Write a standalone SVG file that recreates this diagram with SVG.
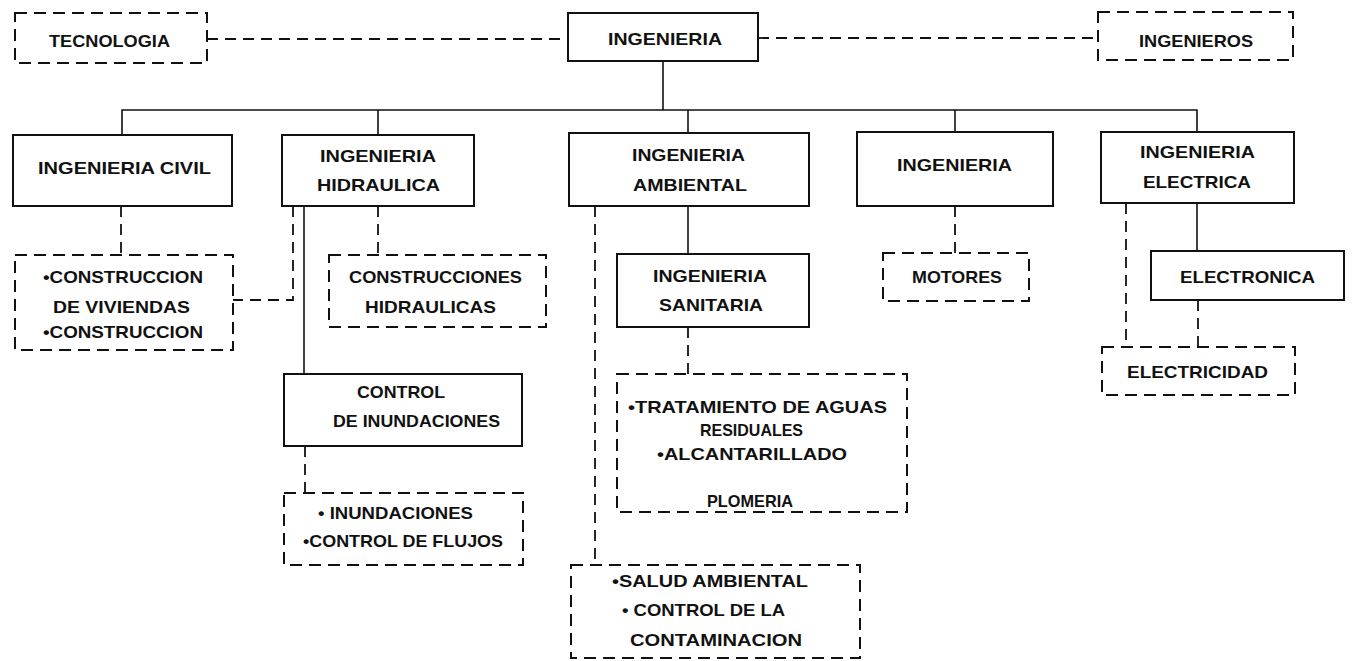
<svg xmlns="http://www.w3.org/2000/svg" width="1353" height="661" viewBox="0 0 1353 661">
<style>
.bg{fill:#fff}
.box{fill:#fff;stroke:#111;stroke-width:2}
.dbox{fill:#fff;stroke:#111;stroke-width:2;stroke-dasharray:12 7}
.ln{fill:none;stroke:#111;stroke-width:1.6}
.dln{fill:none;stroke:#111;stroke-width:1.8;stroke-dasharray:11 7}
text{font-family:"Liberation Sans",Arial,sans-serif;font-size:17px;font-weight:bold;fill:#111}
</style>
<rect class="bg" x="0" y="0" width="1353" height="661"/>
<g id="connectors">
<path class="dln" d="M207 39 H568"/>
<path class="dln" d="M758 38 H1098"/>
<path class="ln" d="M663 61 V110"/>
<path class="ln" d="M122 135 V110 H1197 V132"/>
<path class="ln" d="M378 110 V135"/>
<path class="ln" d="M688 110 V133"/>
<path class="ln" d="M955 110 V132"/>
<path class="dln" d="M121 206 V255"/>
<path class="dln" d="M293 206 V300 H233"/>
<path class="ln" d="M304 206 V374"/>
<path class="dln" d="M378 206 V255"/>
<path class="dln" d="M305 446 V493"/>
<path class="ln" d="M688 206 V254"/>
<path class="dln" d="M688 327 V374"/>
<path class="dln" d="M595 206 V565"/>
<path class="dln" d="M955 206 V253"/>
<path class="ln" d="M1197 203 V251"/>
<path class="dln" d="M1126 203 V347"/>
<path class="dln" d="M1198 300 V347"/>
</g>
<g id="tecnologia"><rect class="dbox" x="15" y="13" width="192" height="50"/><text x="49" y="47" textLength="121" lengthAdjust="spacingAndGlyphs">TECNOLOGIA</text></g>
<g id="ingenieria"><rect class="box" x="568" y="13" width="190" height="48"/><text x="608" y="45" textLength="114" lengthAdjust="spacingAndGlyphs">INGENIERIA</text></g>
<g id="ingenieros"><rect class="dbox" x="1098" y="12" width="195" height="48"/><text x="1139" y="47" textLength="114" lengthAdjust="spacingAndGlyphs">INGENIEROS</text></g>
<g id="civil"><rect class="box" x="13" y="135" width="219" height="71"/><text x="38" y="174" textLength="173" lengthAdjust="spacingAndGlyphs">INGENIERIA CIVIL</text></g>
<g id="hidraulica"><rect class="box" x="282" y="135" width="192" height="71"/><text x="320" y="162" textLength="116" lengthAdjust="spacingAndGlyphs">INGENIERIA</text><text x="317" y="191" textLength="123" lengthAdjust="spacingAndGlyphs">HIDRAULICA</text></g>
<g id="ambiental"><rect class="box" x="569" y="133" width="240" height="73"/><text x="632" y="161" textLength="113" lengthAdjust="spacingAndGlyphs">INGENIERIA</text><text x="633" y="191" textLength="114" lengthAdjust="spacingAndGlyphs">AMBIENTAL</text></g>
<g id="ingenieria2"><rect class="box" x="857" y="132" width="196" height="74"/><text x="897" y="171" textLength="115" lengthAdjust="spacingAndGlyphs">INGENIERIA</text></g>
<g id="electrica"><rect class="box" x="1101" y="132" width="193" height="71"/><text x="1140" y="158" textLength="115" lengthAdjust="spacingAndGlyphs">INGENIERIA</text><text x="1143" y="188" textLength="108" lengthAdjust="spacingAndGlyphs">ELECTRICA</text></g>
<g id="construccion"><rect class="dbox" x="15" y="255" width="218" height="95"/><text x="43" y="283" textLength="160" lengthAdjust="spacingAndGlyphs">•CONSTRUCCION</text><text x="53" y="313" textLength="137" lengthAdjust="spacingAndGlyphs">DE VIVIENDAS</text><text x="43" y="338" textLength="160" lengthAdjust="spacingAndGlyphs">•CONSTRUCCION</text></g>
<g id="construcciones"><rect class="dbox" x="329" y="255" width="217" height="72"/><text x="349" y="283" textLength="173" lengthAdjust="spacingAndGlyphs">CONSTRUCCIONES</text><text x="365" y="313" textLength="131" lengthAdjust="spacingAndGlyphs">HIDRAULICAS</text></g>
<g id="sanitaria"><rect class="box" x="617" y="254" width="192" height="73"/><text x="653" y="282" textLength="114" lengthAdjust="spacingAndGlyphs">INGENIERIA</text><text x="659" y="311" textLength="104" lengthAdjust="spacingAndGlyphs">SANITARIA</text></g>
<g id="motores"><rect class="dbox" x="883" y="253" width="146" height="48"/><text x="912" y="283" textLength="90" lengthAdjust="spacingAndGlyphs">MOTORES</text></g>
<g id="electronica"><rect class="box" x="1151" y="251" width="193" height="49"/><text x="1180" y="283" textLength="135" lengthAdjust="spacingAndGlyphs">ELECTRONICA</text></g>
<g id="electricidad"><rect class="dbox" x="1102" y="347" width="193" height="48"/><text x="1127" y="378" textLength="141" lengthAdjust="spacingAndGlyphs">ELECTRICIDAD</text></g>
<g id="control"><rect class="box" x="284" y="374" width="238" height="72"/><text x="357" y="398" textLength="88" lengthAdjust="spacingAndGlyphs">CONTROL</text><text x="333" y="427" textLength="167" lengthAdjust="spacingAndGlyphs">DE INUNDACIONES</text></g>
<g id="tratamiento"><rect class="dbox" x="617" y="374" width="290" height="138"/><text x="628" y="413" textLength="259" lengthAdjust="spacingAndGlyphs">•TRATAMIENTO DE AGUAS</text><text x="700" y="436" textLength="103" lengthAdjust="spacingAndGlyphs">RESIDUALES</text><text x="657" y="460" textLength="190" lengthAdjust="spacingAndGlyphs">•ALCANTARILLADO</text><text x="707" y="507" textLength="86" lengthAdjust="spacingAndGlyphs">PLOMERIA</text></g>
<g id="inundaciones"><rect class="dbox" x="284" y="493" width="239" height="72"/><text x="318" y="519" textLength="155" lengthAdjust="spacingAndGlyphs">• INUNDACIONES</text><text x="303" y="547" textLength="200" lengthAdjust="spacingAndGlyphs">•CONTROL DE FLUJOS</text></g>
<g id="salud"><rect class="dbox" x="571" y="565" width="289" height="93"/><text x="612" y="587" textLength="196" lengthAdjust="spacingAndGlyphs">•SALUD AMBIENTAL</text><text x="622" y="616" textLength="163" lengthAdjust="spacingAndGlyphs">• CONTROL DE LA</text><text x="630" y="646" textLength="172" lengthAdjust="spacingAndGlyphs">CONTAMINACION</text></g>
</svg>
